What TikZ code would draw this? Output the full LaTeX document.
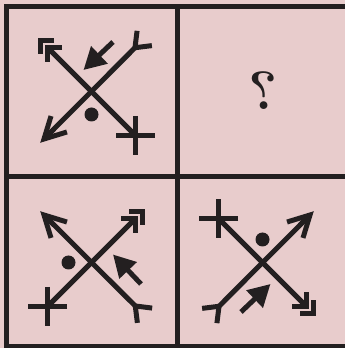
\documentclass[tikz,border=0pt]{standalone}
\usetikzlibrary{arrows.meta,calc}
\definecolor{Ink}{HTML}{231F20}
\definecolor{Blush}{HTML}{E8CCCC}
\tikzset{
  frame/.style={line width=5pt, draw=Ink},
  bar/.style={line width=5pt, draw=Ink},
  bracket/.style={line width=5pt, draw=Ink, line join=miter},
  pointer/.style={-{Triangle[length=22pt,width=23pt]}, line width=5pt, draw=Ink},
  glyph/.pic={
    % diagonal with corner end and cross end
    \draw[bar] (-44,44) -- (44,-44);
    \draw[bracket] (-29.5,44) -- (-44,44) -- (-44,29.5);
    \draw[bracket] (-37.5,51) -- (-51,51) -- (-51,37.5);
    \draw[bar] (24.5,-44) -- (63.5,-44);
    \draw[bar] (44,-24.5) -- (44,-63.5);
    % diagonal with fork end and barb end
    \draw[bar] (43.5,43.8) -- (-47.5,-47.5);
    \draw[bracket] (43.5,43.8) ++(83:17) -- (43.5,43.8) -- ++(7:17);
    \draw[bracket] (-47.5,-47.5) ++(17:24) -- (-47.5,-47.5) -- ++(73:24);
    % small arrow and dot
    \draw[pointer] (21.5,49.5) -- (-8,21.5);
    \fill[Ink] (0,-23) circle (7);
  }
}

\begin{document}
\begin{tikzpicture}[x=1pt,y=1pt]
  \fill[Blush] (0,0) rectangle (345,348);
  \useasboundingbox (0,0) rectangle (345,348);
  \draw[frame] (6,1.5) rectangle (348,341.5);
  \draw[frame] (177,1.5) -- (177,341.5);
  \draw[frame] (6,171) -- (348,171);
  \pic (upleft) at (91.5,256.5) {glyph};
  \pic[rotate=-90] (lowleft) at (91.5,85.5) {glyph};
  \pic[rotate=180] (lowright) at (262.5,85.5) {glyph};
  \node[text=Ink, font=\fontsize{54}{54}\selectfont\bfseries] (query) at (263,257) {\scalebox{-1}[1]{?}};
\end{tikzpicture}
\end{document}
